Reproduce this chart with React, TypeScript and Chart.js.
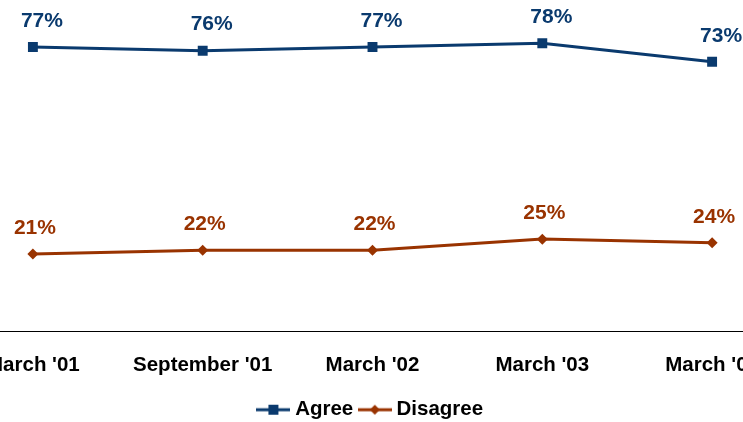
import React, { useEffect, useRef } from "react";
import { Chart, registerables } from "chart.js";

Chart.register(...registerables);

const categories = ["March '01", "September '01", "March '02", "March '03", "March '04"];
const agreeValues = [77, 76, 77, 78, 73];
const disagreeValues = [21, 22, 22, 25, 24];
const seriesNames = ["Agree", "Disagree"];

const AGREE_COLOR = "#0a3a6e";
const DISAGREE_COLOR = "#993300";
const FONT_FAMILY = '"Liberation Sans", Arial, Helvetica, sans-serif';

function makeLegendSymbol(color: string, kind: "rect" | "diamond"): HTMLCanvasElement {
  const c = document.createElement("canvas");
  c.width = 34;
  c.height = 12;
  const ctx = c.getContext("2d")!;
  ctx.strokeStyle = color;
  ctx.fillStyle = color;
  ctx.lineWidth = 3;
  ctx.beginPath();
  ctx.moveTo(0, 6);
  ctx.lineTo(34, 6);
  ctx.stroke();
  ctx.beginPath();
  if (kind === "rect") {
    ctx.rect(12, 1, 10, 10);
  } else {
    ctx.moveTo(17, 1);
    ctx.lineTo(22, 6);
    ctx.lineTo(17, 11);
    ctx.lineTo(12, 6);
    ctx.closePath();
  }
  ctx.fill();
  return c;
}

const dataLabelPlugin = {
  id: "dataLabels",
  afterDatasetsDraw(chart: any) {
    const ctx = chart.ctx;
    ctx.save();
    ctx.font = `bold 21px ${FONT_FAMILY}`;
    ctx.textAlign = "center";
    ctx.textBaseline = "middle";
    chart.data.datasets.forEach((ds: any, di: number) => {
      const meta = chart.getDatasetMeta(di);
      const dx = di === 0 ? 9 : 2;
      ctx.fillStyle = ds.borderColor;
      meta.data.forEach((pt: any, i: number) => {
        ctx.fillText(`${ds.data[i]}%`, pt.x + dx, pt.y - 26);
      });
    });
    ctx.restore();
  },
};

export default function App() {
  const canvasRef = useRef<HTMLCanvasElement | null>(null);

  useEffect(() => {
    if (!canvasRef.current) return;
    const symbols = [
      makeLegendSymbol(AGREE_COLOR, "rect"),
      makeLegendSymbol(DISAGREE_COLOR, "diamond"),
    ];
    const chart = new Chart(canvasRef.current, {
      type: "line",
      data: {
        labels: categories,
        datasets: [
          {
            label: seriesNames[0],
            data: agreeValues,
            borderColor: AGREE_COLOR,
            backgroundColor: AGREE_COLOR,
            borderWidth: 3,
            pointStyle: "rect",
            pointRadius: 7,
            pointBorderWidth: 0,
            tension: 0,
          },
          {
            label: seriesNames[1],
            data: disagreeValues,
            borderColor: DISAGREE_COLOR,
            backgroundColor: DISAGREE_COLOR,
            borderWidth: 3,
            pointStyle: "rectRot",
            pointRadius: 5.5,
            pointBorderWidth: 0,
            tension: 0,
          },
        ],
      },
      options: {
        responsive: false,
        animation: false,
        devicePixelRatio: 1,
        layout: { padding: 0, autoPadding: false },
        scales: {
          x: {
            offset: true,
            grid: { display: false, drawTicks: false },
            border: { display: true, color: "#000", width: 1 },
            ticks: {
              color: "#000",
              padding: 21.5,
              maxRotation: 0,
              autoSkip: false,
              font: { family: FONT_FAMILY, size: 20.5, weight: "bold" },
            },
            afterFit: (scale: any) => {
              scale.height = 58;
            },
          },
          y: {
            display: false,
            min: 0,
            max: 100,
          },
        },
        plugins: {
          tooltip: { enabled: false },
          legend: {
            position: "bottom",
            labels: {
              color: "#000",
              usePointStyle: true,
              pointStyleWidth: 23,
              padding: 10,
              font: { family: FONT_FAMILY, size: 20.5, weight: "bold" },
              generateLabels: (ch: any) => {
                const items = (Chart.defaults.plugins.legend.labels as any).generateLabels(ch);
                return items.map((it: any, i: number) => ({ ...it, pointStyle: symbols[i] }));
              },
            },
          },
        },
      },
      plugins: [dataLabelPlugin],
    } as any);
    return () => chart.destroy();
  }, []);

  return (
    <div
      style={{
        position: "fixed",
        left: 0,
        top: 0,
        width: 743,
        height: 422,
        overflow: "hidden",
        background: "#fff",
      }}
    >
      <div style={{ position: "absolute", left: -51.6, top: -38, width: 849, height: 468 }}>
        <canvas ref={canvasRef} width={849} height={468} style={{ width: 849, height: 468 }} />
      </div>
    </div>
  );
}
